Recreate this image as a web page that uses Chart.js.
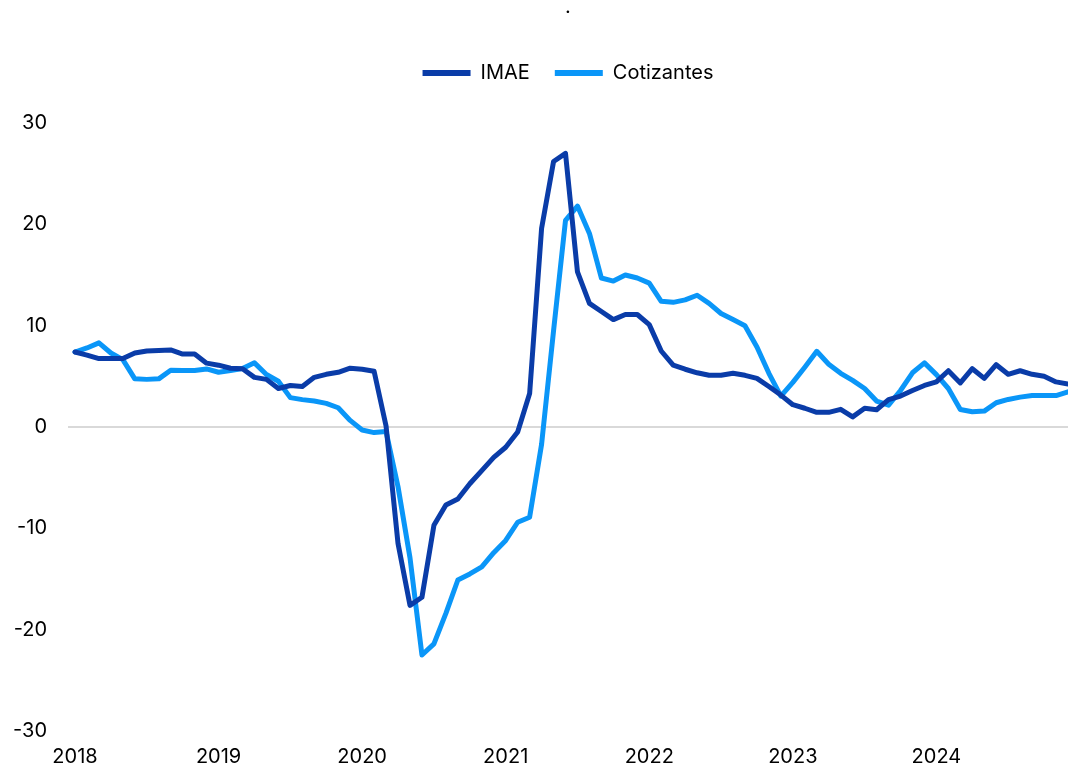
<!DOCTYPE html>
<html>
<head>
<meta charset="utf-8">
<script src="https://cdn.jsdelivr.net/npm/chart.js@4/dist/chart.umd.min.js"></script>
<style>
  html, body { margin: 0; padding: 0; background: #ffffff; }
  #wrap { width: 1068px; height: 771px; position: relative; }
</style>
</head>
<body>
<div id="wrap"><canvas id="c" width="1068" height="771"></canvas></div>
<script>
// Monthly data, Jan 2018 .. Dec 2024 (index 0 = Jan 2018)
const yearLabels = ['2018', '2019', '2020', '2021', '2022', '2023', '2024'];
const yTicks = [-30, -20, -10, 0, 10, 20, 30];

const imae = [
  7.4, 7.1, 6.75, 6.75, 6.75, 7.3, 7.5, 7.55, 7.6, 7.2, 7.2, 6.3,
  6.1, 5.8, 5.75, 4.9, 4.7, 3.8, 4.1, 4.0, 4.9, 5.2, 5.4, 5.8,
  5.7, 5.5, 0.1, -11.5, -17.6, -16.8, -9.7, -7.7, -7.1, -5.6, -4.3, -3.0,
  -2.0, -0.5, 3.3, 19.6, 26.2, 27.0, 15.3, 12.2, 11.4, 10.6, 11.1, 11.1,
  10.1, 7.5, 6.1, 5.7, 5.35, 5.1, 5.1, 5.3, 5.1, 4.8, 4.0, 3.15,
  2.2, 1.85, 1.45, 1.45, 1.74, 1.0, 1.85, 1.7, 2.7, 3.05, 3.6, 4.1,
  4.45, 5.55, 4.35, 5.75, 4.8, 6.15, 5.2, 5.55, 5.2, 5.0, 4.45, 4.25
];

const cotizantes = [
  7.4, 7.8, 8.3, 7.3, 6.65, 4.75, 4.7, 4.75, 5.6, 5.57, 5.57, 5.73,
  5.4, 5.57, 5.77, 6.33, 5.18, 4.52, 2.9, 2.7, 2.56, 2.33, 1.9, 0.65,
  -0.3, -0.55, -0.45, -5.9, -12.9, -22.5, -21.4, -18.4, -15.1, -14.5, -13.8, -12.4,
  -11.2, -9.4, -8.9, -1.7, 9.5, 20.4, 21.8, 19.1, 14.7, 14.4, 15.0, 14.7,
  14.2, 12.4, 12.3, 12.55, 13.0, 12.2, 11.2, 10.6, 10.0, 7.9, 5.3, 3.05,
  4.4, 5.9, 7.47, 6.2, 5.3, 4.6, 3.8, 2.56, 2.16, 3.6, 5.35, 6.33,
  5.17, 3.8, 1.73, 1.5, 1.57, 2.39, 2.72, 2.95, 3.1, 3.1, 3.1, 3.47
];

const FONT = 'Inter, "DejaVu Sans", sans-serif';
const toPoints = arr => arr.map((v, i) => ({ x: i, y: v }));

// adds empty space below the legend (between legend and plot)
const legendGap = {
  id: 'legendGap',
  beforeLayout(chart) {
    const lg = chart.legend;
    if (lg && !lg._gapPatched) {
      const orig = lg.fit.bind(lg);
      lg.fit = function () { orig(); this.height += 30; };
      lg._gapPatched = true;
    }
  }
};

new Chart(document.getElementById('c'), {
  type: 'line',
  data: {
    datasets: [
      {
        label: 'IMAE',
        data: toPoints(imae),
        borderColor: '#0a3ca8',
        backgroundColor: '#0a3ca8',
        borderWidth: 5,
        pointRadius: 0,
        tension: 0,
        borderJoinStyle: 'round',
        borderCapStyle: 'round'
      },
      {
        label: 'Cotizantes',
        data: toPoints(cotizantes),
        borderColor: '#0a96f8',
        backgroundColor: '#0a96f8',
        borderWidth: 5,
        pointRadius: 0,
        tension: 0,
        borderJoinStyle: 'round',
        borderCapStyle: 'round'
      }
    ]
  },
  plugins: [legendGap],
  options: {
    responsive: false,
    animation: false,
    devicePixelRatio: 1,
    layout: { padding: { top: 0, right: 0, left: 0, bottom: 0 } },
    plugins: {
      tooltip: { enabled: false },
      title: {
        display: true,
        text: '.',
        fullSize: false,
        color: '#000000',
        font: { family: FONT, size: 20, weight: 'normal', lineHeight: 0.7 },
        padding: { top: 0, bottom: 24 }
      },
      legend: {
        display: true,
        position: 'top',
        fullSize: false,
        labels: {
          color: '#000000',
          font: { family: FONT, size: 20 },
          boxWidth: 48,
          boxHeight: 6,
          padding: 25,
          generateLabels: chart => chart.data.datasets.map((ds, i) => ({
            text: ds.label,
            fillStyle: ds.borderColor,
            strokeStyle: ds.borderColor,
            lineWidth: 0,
            hidden: false,
            datasetIndex: i,
            fontColor: '#000000'
          }))
        }
      }
    },
    scales: {
      x: {
        type: 'linear',
        min: -0.585,
        max: 83,
        grid: { display: false, drawTicks: false },
        border: { display: false },
        afterBuildTicks: scale => {
          scale.ticks = yearLabels.map((_, k) => ({ value: k * 12 }));
        },
        afterFit: scale => { scale.height = 40; },
        ticks: {
          autoSkip: false,
          maxRotation: 0,
          padding: 14,
          color: '#000000',
          font: { family: FONT, size: 20 },
          callback: v => yearLabels[Math.round(v / 12)]
        }
      },
      y: {
        min: -30,
        max: 30,
        afterBuildTicks: scale => {
          scale.ticks = yTicks.map(v => ({ value: v }));
        },
        afterFit: scale => { scale.width = 68; },
        grid: {
          drawTicks: false,
          lineWidth: 2,
          color: ctx => (ctx.tick && ctx.tick.value === 0 ? '#d9d9d9' : 'rgba(0,0,0,0)')
        },
        border: { display: false },
        ticks: {
          padding: 21,
          color: '#000000',
          font: { family: FONT, size: 20 }
        }
      }
    }
  }
});
</script>
</body>
</html>
